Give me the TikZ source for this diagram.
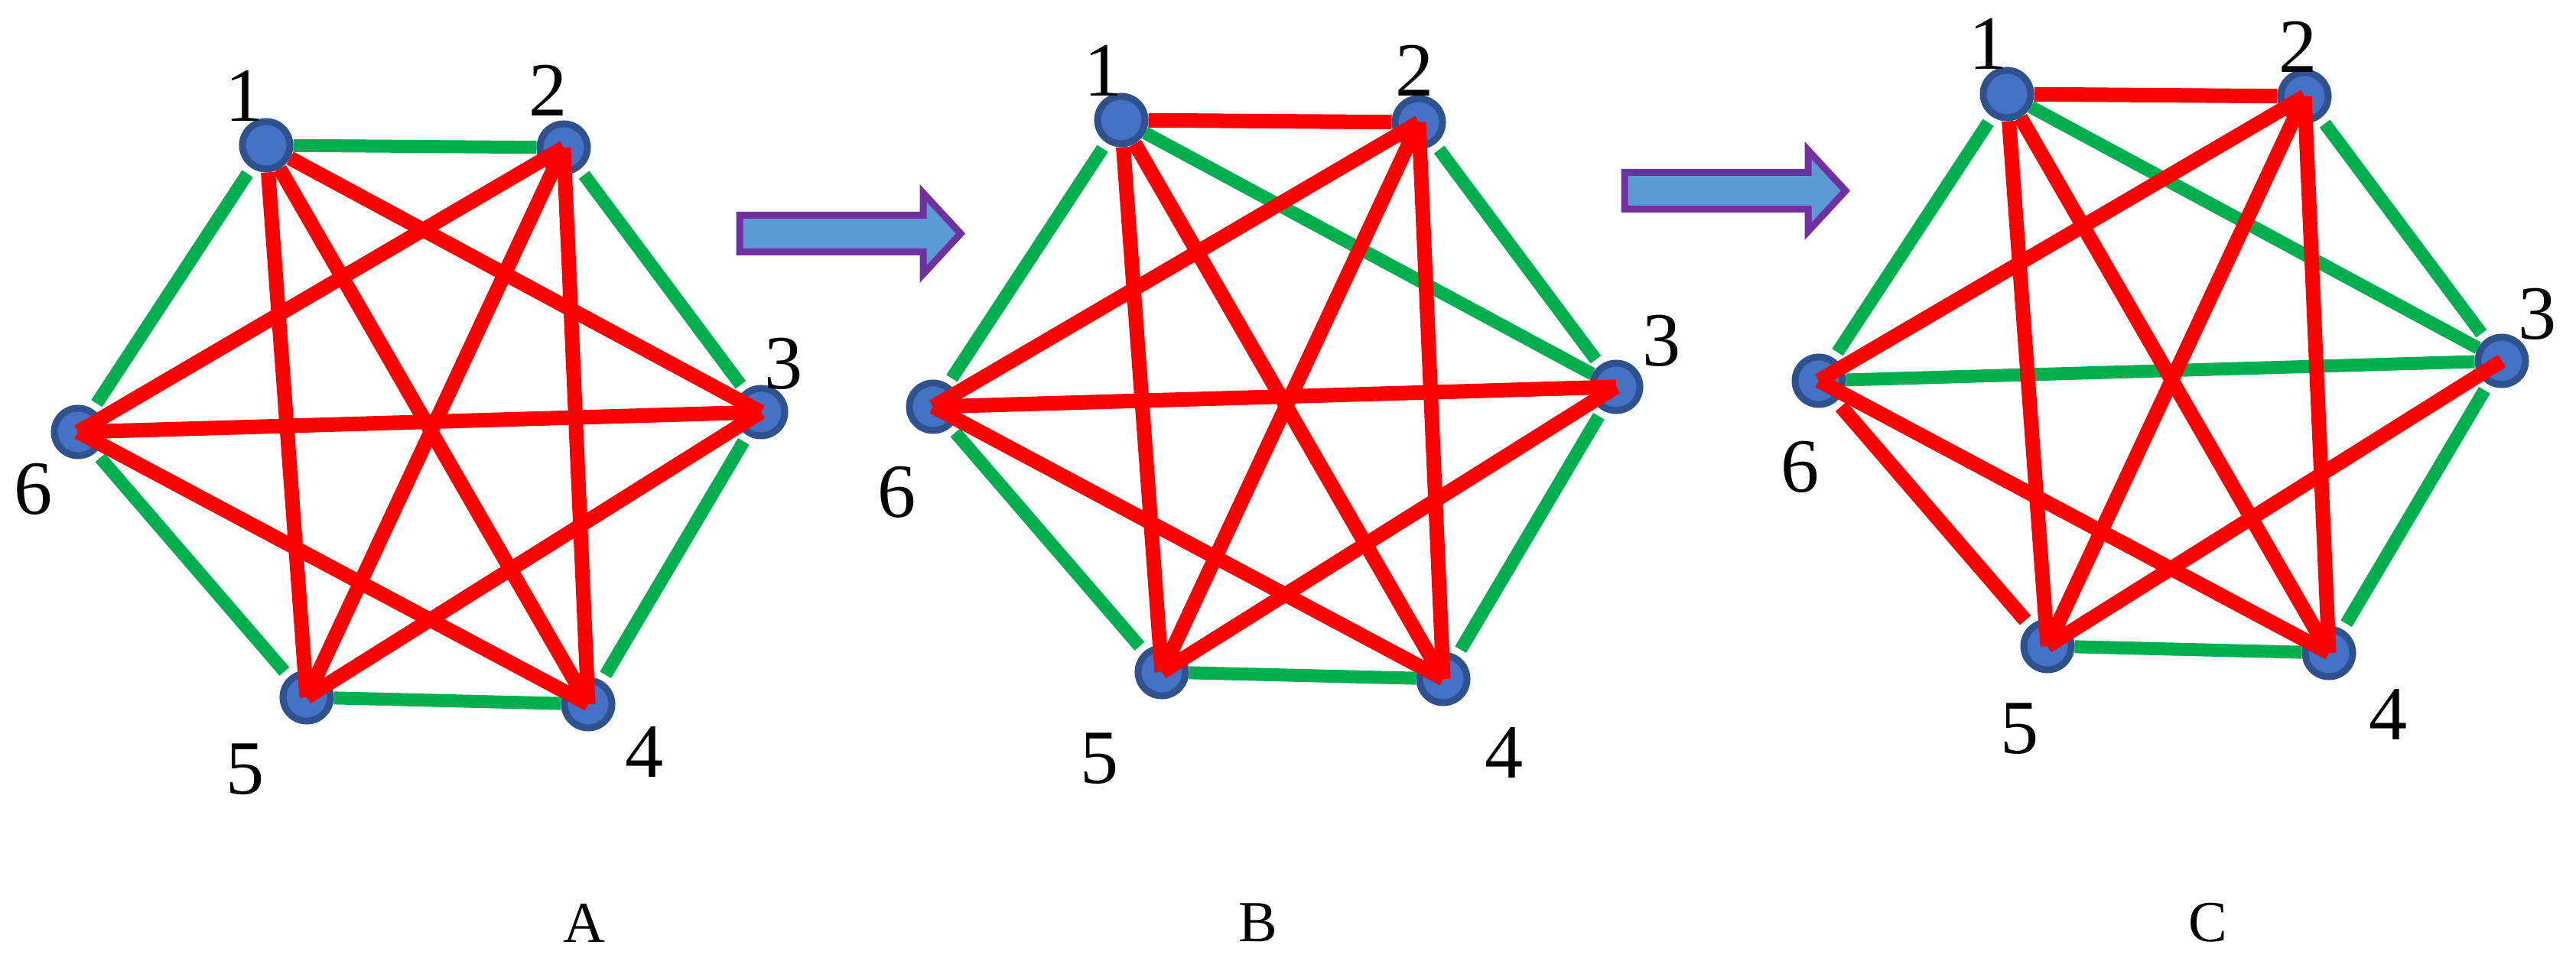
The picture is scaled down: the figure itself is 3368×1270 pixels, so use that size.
\documentclass[tikz,border=0pt]{standalone}
\usepackage{fontspec}
\setmainfont{Liberation Serif}
\usepackage{tikz}
\usetikzlibrary{backgrounds}

\definecolor{nodeblue}{HTML}{4472C4}
\definecolor{nodeedge}{HTML}{2F528F}
\definecolor{linkgreen}{HTML}{00B050}
\definecolor{linkred}{HTML}{FF0000}
\definecolor{arrowfill}{HTML}{5B9BD5}
\definecolor{arrowedge}{HTML}{7030A0}

\begin{document}
\begin{tikzpicture}[x=0.01cm, y=-0.01cm,
    vertex/.style={circle, fill=nodeblue, draw=nodeedge, line width=0.09cm, minimum size=0.62cm, inner sep=0pt},
    glink/.style={linkgreen, line width=0.17cm},
    rlink/.style={linkred, line width=0.19cm},
    side/.style={shorten <=0.09cm, shorten >=0.09cm},
    num/.style={font=\fontsize{28.5}{32}\selectfont, inner sep=0pt},
    caption/.style={font=\fontsize{21.6}{24}\selectfont, inner sep=0pt}]

    \useasboundingbox (0,0) rectangle (3368,1270);

    % the three graphs, same shape, shifted
    \foreach \g/\dx/\dy in {a/0/0, b/1118/-33, c/2276/-67}
        \foreach \n/\x/\y in {1/348/190, 2/737/193, 3/995/539, 4/769/921, 5/401/912, 6/102/565}
            \node[vertex] (\g\n) at (\x+\dx, \y+\dy) {};

    % green links under the vertices
    \begin{scope}[on background layer]
        \draw[glink] (a1) -- (a2);
        \draw[glink] (a4) -- (a5);
        \draw[glink, side] (a2) -- (a3);
        \draw[glink, side] (a3) -- (a4);
        \draw[glink, side] (a5) -- (a6);
        \draw[glink, side] (a6) -- (a1);

        \draw[glink] (b4) -- (b5);
        \draw[glink] (b1) -- (b3);
        \draw[glink, side] (b2) -- (b3);
        \draw[glink, side] (b3) -- (b4);
        \draw[glink, side] (b5) -- (b6);
        \draw[glink, side] (b6) -- (b1);

        \draw[glink] (c4) -- (c5);
        \draw[glink] (c1) -- (c3);
        \draw[glink] (c3) -- (c6);
        \draw[glink, side] (c2) -- (c3);
        \draw[glink, side] (c3) -- (c4);
        \draw[glink, side] (c6) -- (c1);
    \end{scope}

    % red links
    \draw[rlink] (a1) -- (a3.center);
    \draw[rlink] (a1) -- (a4.center);
    \draw[rlink] (a1) -- (a5.center);
    \draw[rlink] (a2.center) -- (a4.center);
    \draw[rlink] (a2.center) -- (a5.center);
    \draw[rlink] (a2.center) -- (a6.center);
    \draw[rlink] (a3.center) -- (a5.center);
    \draw[rlink] (a3.center) -- (a6.center);
    \draw[rlink] (a4.center) -- (a6.center);

    \draw[rlink] (b1) -- (b2);
    \draw[rlink] (b1) -- (b4.center);
    \draw[rlink] (b1) -- (b5.center);
    \draw[rlink] (b2.center) -- (b4.center);
    \draw[rlink] (b2.center) -- (b5.center);
    \draw[rlink] (b2.center) -- (b6.center);
    \draw[rlink] (b3.center) -- (b5.center);
    \draw[rlink] (b3.center) -- (b6.center);
    \draw[rlink] (b4.center) -- (b6.center);

    \draw[rlink] (c1) -- (c2);
    \draw[rlink, side] (c5) -- (c6);
    \draw[rlink] (c1) -- (c4.center);
    \draw[rlink] (c1) -- (c5.center);
    \draw[rlink] (c2.center) -- (c4.center);
    \draw[rlink] (c2.center) -- (c5.center);
    \draw[rlink] (c2.center) -- (c6.center);
    \draw[rlink] (c3.center) -- (c5.center);
    \draw[rlink] (c4.center) -- (c6.center);

    % vertex numbers
    \foreach \n/\x/\y in {1/320/125, 2/717/118, 3/1025/476, 4/843/984, 5/321/1006, 6/44/640}
        \node[num] (la\n) at (\x,\y) {\n};
    \foreach \n/\x/\y in {1/1443/92, 2/1850/92, 3/2173/446, 4/1967/985, 5/1438/992, 6/1173/644}
        \node[num] (lb\n) at (\x,\y) {\n};
    \foreach \n/\x/\y in {1/2600/57, 2/3005/61, 3/3318/411, 4/3123/935, 5/2641/953, 6/2354/611}
        \node[num] (lc\n) at (\x,\y) {\n};

    % block arrows between the graphs
    \foreach \ax/\ay in {967/305.5, 2124/249.5}
        \draw[fill=arrowfill, draw=arrowedge, line width=0.09cm, line join=miter]
            (\ax,\ay-24) -- ++(240,0) -- ++(0,-29) -- ++(49,53) -- ++(-49,53)
            -- ++(0,-29) -- ++(-240,0) -- cycle;

    \node[caption] (capa) at (764,1207) {A};
    \node[caption] (capb) at (1645,1207) {B};
    \node[caption] (capc) at (2887,1207) {C};
\end{tikzpicture}
\end{document}
